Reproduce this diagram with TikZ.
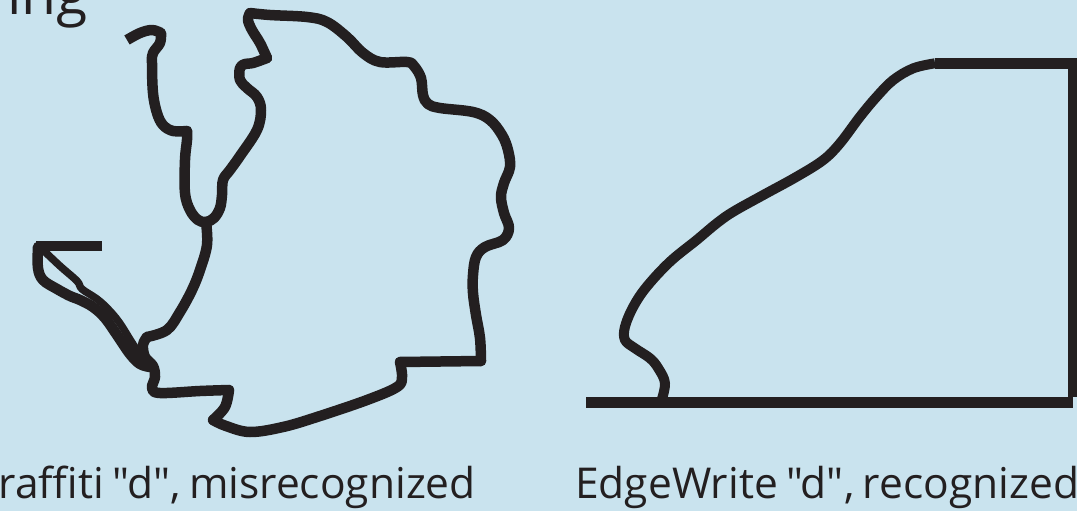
\documentclass[tikz,border=0pt]{standalone}
\usepackage{fontspec}
\setmainfont{Open Sans}
\newfontfamily\lblfont{Open Sans}
\newcommand{\tightsp}{\spaceskip=0.2em plus 0.1em\relax}
\definecolor{bg}{HTML}{C9E3EE}
\definecolor{ink}{HTML}{231F20}
\begin{document}
\begin{tikzpicture}[x=1pt,y=-1pt,
  stroke/.style={draw=ink,line width=10.5pt,line cap=round,line join=round},
  bar/.style={draw=ink,line width=11pt,line cap=butt,line join=miter},
  lbl/.style={text=ink,inner sep=0pt,font=\lblfont\fontsize{42.5}{50}\selectfont\tightsp},
  ttl/.style={text=ink,inner sep=0pt,font=\lblfont\fontsize{57}{66}\selectfont}]
\useasboundingbox (0,0) rectangle (1077,511);
\fill[bg] (0,0) rectangle (1077,511);
\clip (0,0) rectangle (1077,511);

% top text fragment
\node[ttl,anchor=base east] (title) at (88,15) {ing};

% ---------- Graffiti "d" ----------
\draw[stroke,line cap=butt] plot[smooth,tension=.6] coordinates {(127,40) (140,33) (152,30) (161,33)};
\draw[stroke] plot[smooth,tension=.6] coordinates {(161,33) (160,43) (153,53) (152,63) (153,93) (157,113) (163,125) (173,131) (187,131)};
\draw[stroke] plot[smooth,tension=.6] coordinates {(187,131) (187,140) (185,160) (185,193) (190,210) (198,220) (206,222) (214,218) (220,208) (222,195) (223,180) (230,170) (240,156) (257,130) (261,110) (257,97) (247,88) (240,80) (240,68) (245,64) (253,63) (267,58)};
\draw[stroke] plot[smooth,tension=.6] coordinates {(267,58) (260,43) (252,30) (248,20) (250,13)};
\draw[stroke] plot[smooth,tension=.6] coordinates {(250,13) (270,15) (307,17) (327,22) (347,37) (363,53) (380,62) (407,62) (414,66) (421,78) (423,95) (428,104) (440,108) (473,112) (490,120) (502,135) (508,150) (510,167) (504,183) (501,197) (504,213) (509,228) (503,240) (485,247) (476,257) (473,275) (473,293) (476,315) (480,338) (481,361)};
\draw[stroke] (481,361) -- (400,362);
\draw[stroke] plot[smooth,tension=.6] coordinates {(400,362) (402,377) (397,387) (367,400) (317,417) (283,427) (250,432) (226,426) (213,420)};
\draw[stroke] plot[smooth,tension=.6] coordinates {(213,420) (225,407) (229,390)};
\draw[stroke] plot[smooth,tension=.6] coordinates {(229,390) (200,391) (160,393) (152,388) (155,377) (153,366) (145,357) (143,345) (147,337)};
\draw[stroke] plot[smooth,tension=.6] coordinates {(147,337) (167,330) (180,312) (192,290) (200,270) (207,245) (206,222)};
% arrow-like start stroke
\draw[stroke,line cap=butt] (102,246) -- (36,246);
\draw[stroke] plot[smooth,tension=.6] coordinates {(38,247) (38,268) (43,280) (57,289) (70,296) (80,300) (93,307) (105,318) (117,335) (130,354) (140,364) (150,367)};
\draw[stroke,line width=7.5pt] plot[smooth,tension=.6] coordinates {(42,249) (60,266) (77,281) (82,289) (97,299) (108,309) (119,322) (131,341) (140,355)};

% ---------- EdgeWrite "d" ----------
\coordinate (bl) at (586,402.5);
\coordinate (br) at (1073,402.5);
\coordinate (tr) at (1073,63.3);
\coordinate (tc) at (935,63.3);
\draw[bar] (bl) -- (br);
\draw[bar] (tc) -- (tr) -- ([yshift=5.5pt]br);
\draw[stroke,line width=10pt,line cap=butt] plot[smooth,tension=.6] coordinates {(661,402) (665,383.3) (658.3,368.3) (650,358.3) (635,348.3) (625,340) (625,326.7) (633.3,306.7) (646.7,286.7) (670,261.7) (696.7,240) (716.7,223.3) (733.3,211.7) (763.3,195) (796.7,176.7) (823.3,160) (840,143.3) (860,116.7) (876.7,96.7) (893.3,80) (913.3,68.3) (935,63.3)};

% ---------- labels ----------
\node[lbl,anchor=base east] (lg) at (476,498) {Graffiti "d", misrecognized};
\node[lbl,anchor=base west] (le) at (575,498) {EdgeWrite "d", recognized};
\end{tikzpicture}
\end{document}
